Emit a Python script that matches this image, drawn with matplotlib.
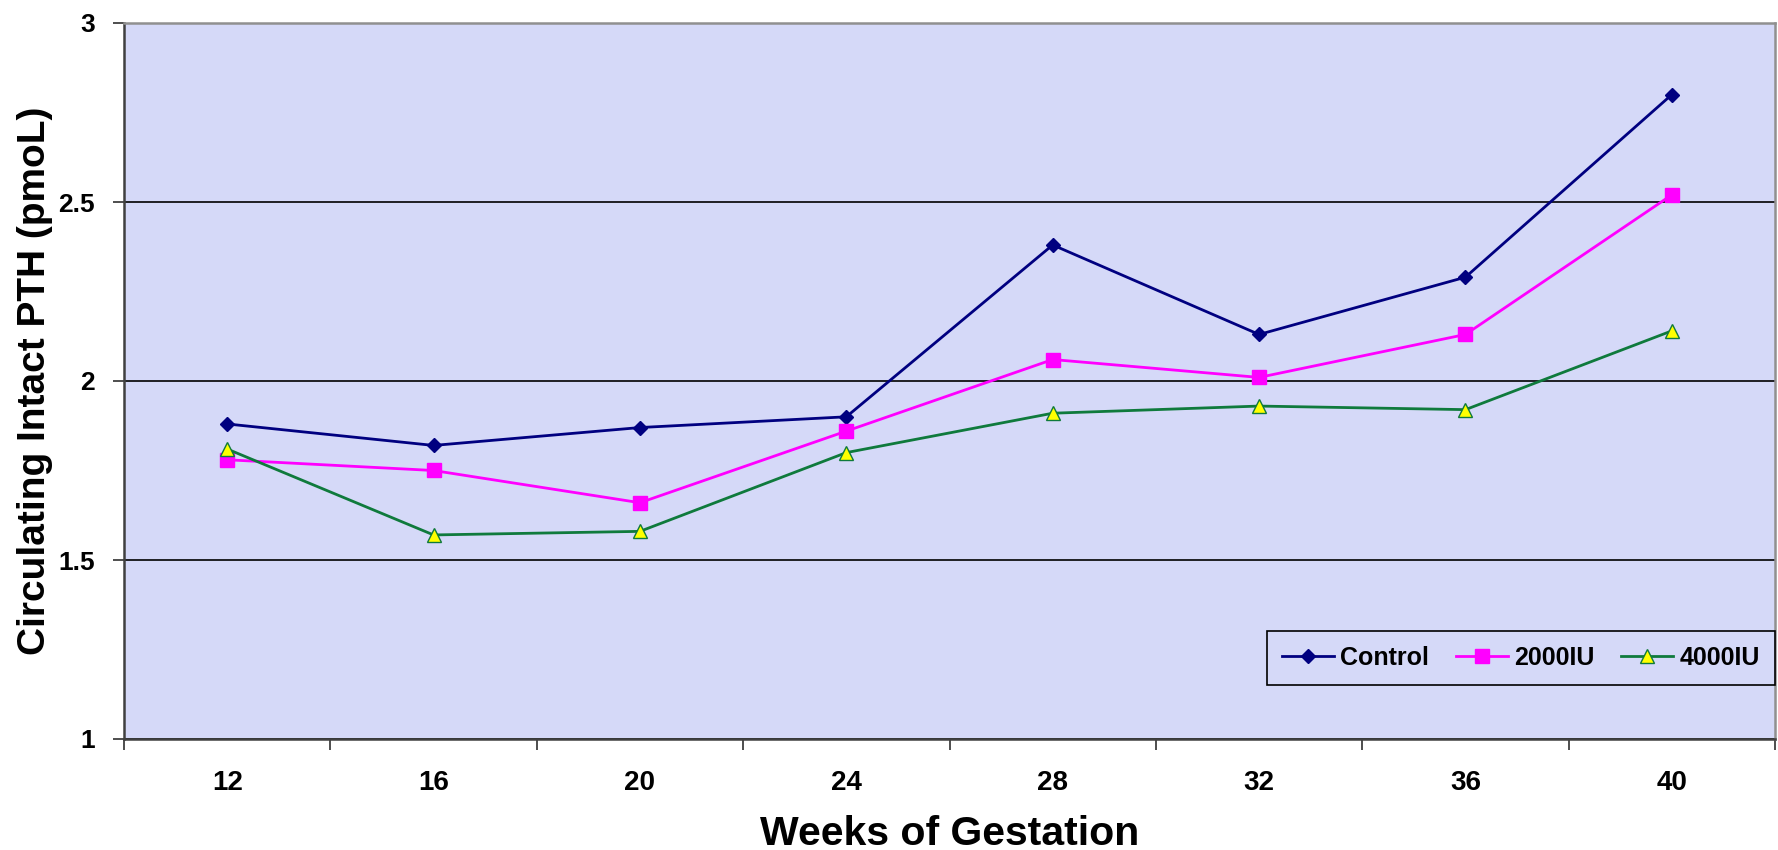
import matplotlib
matplotlib.use("Agg")
import matplotlib.pyplot as plt
import numpy as np

weeks = ["12", "16", "20", "24", "28", "32", "36", "40"]
control = [1.88, 1.82, 1.87, 1.90, 2.38, 2.13, 2.29, 2.80]
iu2000 = [1.78, 1.75, 1.66, 1.86, 2.06, 2.01, 2.13, 2.52]
iu4000 = [1.81, 1.57, 1.58, 1.80, 1.91, 1.93, 1.92, 2.14]
yticks = [1, 1.5, 2, 2.5, 3]

fig = plt.figure(figsize=(17.78, 8.5), dpi=100)
ax = fig.add_axes([124 / 1778, 1 - 739 / 850, (1775 - 124) / 1778, 716 / 850])
ax.set_facecolor("#D5D9F8")

x = np.arange(len(weeks))
ax.plot(x, control, color="#000080", lw=2, marker="D", ms=7, mfc="#000080", mec="#000080", label="Control", zorder=3)
ax.plot(x, iu2000, color="#FF00FF", lw=2, marker="s", ms=10, mfc="#FF00FF", mec="#FF00FF", label="2000IU", zorder=3)
ax.plot(x, iu4000, color="#0F7A3C", lw=2, marker="^", ms=10, mfc="#FFFF00", mec="#0F7A3C", label="4000IU", zorder=3)

ax.set_xlim(-0.5, len(weeks) - 0.5)
ax.set_ylim(1, 3)
ax.set_yticks(yticks)
ax.set_yticklabels(["1", "1.5", "2", "2.5", "3"], fontfamily="Liberation Sans", fontweight="bold", fontsize=19)
ax.set_xticks(x)
ax.set_xticklabels(weeks, fontfamily="Liberation Sans", fontweight="bold", fontsize=20)
ax.set_xticks(np.arange(len(weeks) + 1) - 0.5, minor=True)
ax.tick_params(axis="x", which="major", length=0, pad=22)
ax.tick_params(axis="x", which="minor", length=8, width=1.3, color="#404040", direction="out")
ax.tick_params(axis="y", length=8, width=1.3, color="#404040", direction="out", pad=13)

ax.grid(axis="y", color="black", lw=1.2)
ax.set_axisbelow(True)
for s in ["left", "bottom"]:
    ax.spines[s].set_color("#404040")
    ax.spines[s].set_linewidth(1.8)
for s in ["top", "right"]:
    ax.spines[s].set_color("#909090")
    ax.spines[s].set_linewidth(1.8)

ax.set_xlabel("Weeks of Gestation", fontfamily="Liberation Sans", fontweight="bold", fontsize=29.5, labelpad=14)
ax.set_ylabel("Circulating Intact PTH (pmoL)", fontfamily=["Liberation Sans Narrow", "Liberation Sans"],
              fontweight="bold", fontsize=28, labelpad=4)

leg = ax.legend(loc="lower right", bbox_to_anchor=(1.0, 0.0754), borderaxespad=0, ncol=3, frameon=True, fancybox=False,
                prop={"family": "Liberation Sans", "weight": "bold", "size": 18},
                handlelength=2.1, columnspacing=1.05, borderpad=0.6, handletextpad=0.25)
leg.get_frame().set_edgecolor("black")
leg.get_frame().set_facecolor("#D5D9F8")
leg.get_frame().set_linewidth(1.2)
leg.get_frame().set_alpha(1)

fig.savefig("out.png", dpi=100, facecolor="white")
